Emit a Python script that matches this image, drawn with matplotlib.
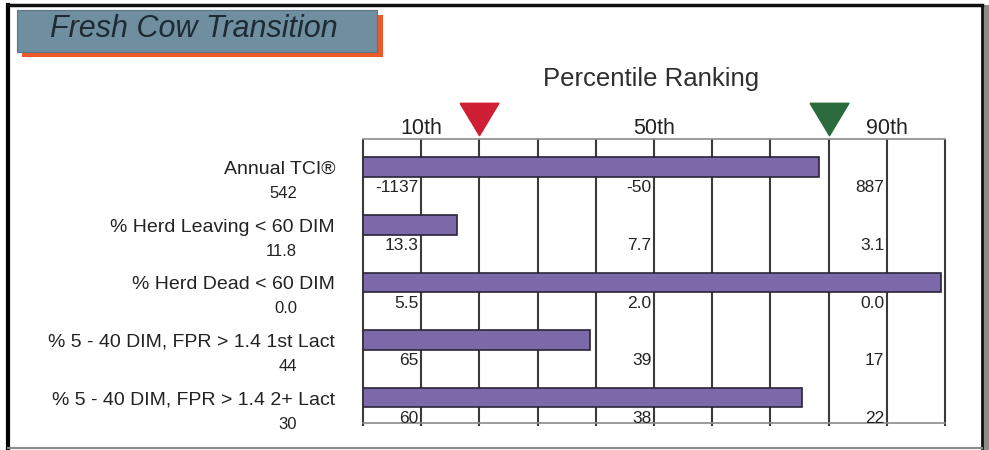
import matplotlib
matplotlib.use("Agg")
import matplotlib.pyplot as plt
from matplotlib import transforms
from matplotlib.patches import Rectangle
from matplotlib.lines import Line2D

plt.rcParams['font.family'] = ['Liberation Sans', 'DejaVu Sans']

# --- data ---
metrics = ["Annual TCI\u00ae", "% Herd Leaving < 60 DIM", "% Herd Dead < 60 DIM",
           "% 5 - 40 DIM, FPR > 1.4 1st Lact", "% 5 - 40 DIM, FPR > 1.4 2+ Lact"]
herd_values = ["542", "11.8", "0.0", "44", "30"]
percentile = [78.3, 16.2, 99.3, 39.0, 75.4]
p10_values = ["-1137", "13.3", "5.5", "65", "60"]
p50_values = ["-50", "7.7", "2.0", "39", "38"]
p90_values = ["887", "3.1", "0.0", "17", "22"]
bench_pct = [10, 50, 90]
bench_labels = ["10th", "50th", "90th"]
red_marker = 20
green_marker = 80

W, H = 989, 450
fig = plt.figure(figsize=(W / 100, H / 100), dpi=100)
fig.patch.set_facecolor('white')
txt_col = '#222222'

# axes placed in pixel units
left_px, right_px, top_px, bot_px = 363, 945, 139, 423
ax = fig.add_axes([left_px / W, 1 - bot_px / H, (right_px - left_px) / W, (bot_px - top_px) / H])
ax.set_xlim(0, 100)
ax.set_ylim(4.44, -0.49)
ax.set_xticks([])
ax.set_yticks([])
for s in ['top', 'bottom']:
    ax.spines[s].set_color('#8a8a8a')
    ax.spines[s].set_linewidth(1.2)
for s in ['left', 'right']:
    ax.spines[s].set_visible(False)

rows = list(range(len(metrics)))

# vertical grid lines (slightly past the bottom edge)
ax.vlines(range(0, 101, 10), -0.49, 4.5, colors='#3a3a3a', linewidth=1.5, clip_on=False, zorder=1)

ax.barh(rows, percentile, height=0.34, left=0, color='#7b69a9', edgecolor='#2b2538',
        linewidth=1.2, zorder=3)

for r in rows:
    for x, txt in zip(bench_pct, [p10_values[r], p50_values[r], p90_values[r]]):
        ax.text(x - 0.4, r + 0.36, txt, ha='right', va='center', fontsize=12.5,
                color=txt_col, zorder=4)

# left hand labels
lt = transforms.blended_transform_factory(fig.transFigure, ax.transData)
for r in rows:
    ax.text(335 / W, r + 0.04, metrics[r], transform=lt, ha='right', va='center',
            fontsize=14, color=txt_col, clip_on=False)
    ax.text(297 / W, r + 0.46, herd_values[r], transform=lt, ha='right', va='center',
            fontsize=12, color=txt_col, clip_on=False)

# percentile headings
for x, lab in zip(bench_pct, bench_labels):
    ax.text(x, -0.68, lab, ha='center', va='center', fontsize=15.5, color=txt_col, clip_on=False)
ax.text(49.5, -1.53, "Percentile Ranking", ha='center', va='center', fontsize=18.5,
        color='#2e2e2e', clip_on=False)

# marker triangles
tri = [(-1.2, 1.0), (1.2, 1.0), (0.0, -1.0), (-1.2, 1.0)]
ax.plot([red_marker], [-0.84], marker=tri, markersize=28, color='#cf1f34',
        linestyle='none', clip_on=False, zorder=5)
ax.plot([green_marker], [-0.84], marker=tri, markersize=28, color='#2b6a3c',
        linestyle='none', clip_on=False, zorder=5)

# title box with shadow
px = lambda x0, y0, w, h: (x0 / W, 1 - (y0 + h) / H, w / W, h / H)
sx, sy, sw, sh = px(22, 15, 361, 42)
fig.patches.append(Rectangle((sx, sy), sw, sh, transform=fig.transFigure,
                             facecolor='#ec5a2c', edgecolor='none', zorder=1))
bx, by, bw, bh = px(17, 10, 360, 42)
fig.patches.append(Rectangle((bx, by), bw, bh, transform=fig.transFigure,
                             facecolor='#6f8fa1', edgecolor='#5a7585', linewidth=0.8, zorder=2))
fig.text(50 / W, 1 - 29 / H, "Fresh Cow Transition", ha='left', va='center',
         fontsize=22, style='italic', color='#1f2a33', zorder=3)

# outer frame
fig.lines.append(Line2D([8 / W, 8 / W], [1 - 448 / H, 1 - 5 / H], transform=fig.transFigure,
                        color='black', linewidth=3))
fig.lines.append(Line2D([8 / W, 982 / W], [1 - 5 / H, 1 - 5 / H], transform=fig.transFigure,
                        color='#111111', linewidth=2.5))
fig.lines.append(Line2D([982 / W, 982 / W], [1 - 448 / H, 1 - 5 / H], transform=fig.transFigure,
                        color='#111111', linewidth=2))
fig.patches.append(Rectangle((983 / W, 0), 6 / W, 1 - 5 / H, transform=fig.transFigure,
                             facecolor='#8c8c8c', edgecolor='none'))
fig.lines.append(Line2D([8 / W, 982 / W], [1 - 448 / H, 1 - 448 / H], transform=fig.transFigure,
                        color='#8a8a8a', linewidth=1.5))

fig.savefig('out.png', dpi=100)
